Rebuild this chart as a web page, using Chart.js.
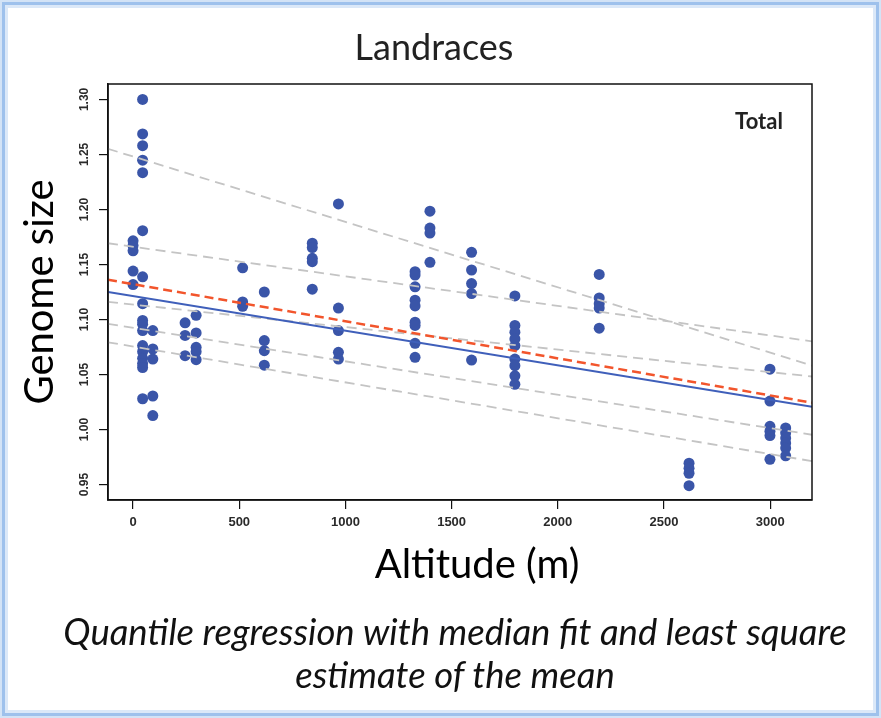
<!DOCTYPE html>
<html>
<head>
<meta charset="utf-8">
<title>Landraces</title>
<script src="https://cdn.jsdelivr.net/npm/chart.js@4.4.0/dist/chart.umd.min.js"></script>
<style>
  html, body { margin: 0; padding: 0; background: #fff; overflow: hidden; }
  #wrap { position: relative; width: 881px; height: 718px; }
  #chart { position: absolute; left: 0; top: 0; }
  #caption {
    position: absolute; left: 29px; top: 610px; width: 852px;
    text-align: center; font-family: Lato, sans-serif; font-style: italic;
    font-size: 36.5px; line-height: 43px; color: #111;
  }
  #edge {
    position: absolute; left: 0; top: 0; width: 881px; height: 718px;
    box-sizing: border-box; border: 2px solid #d3e3f6;
    box-shadow: inset 0 0 0 3px #9ec1ec, inset 0 0 0 6px #dbe8f8;
    pointer-events: none;
  }
</style>
</head>
<body>
<div id="wrap">
  <canvas id="chart" width="881" height="718"></canvas>
  <div id="caption"></div>
  <div id="edge"></div>
</div>
<script>
// Scatter points: altitude (m) and genome size, one entry per point
const pointAltitude = [
  0, 0, 0, 0, 0,
  45, 45, 45, 45, 45, 45, 45, 45, 45, 45, 45, 45, 45, 45, 45, 45, 45,
  93, 93, 93, 93, 93,
  245, 245, 245,
  297, 297, 297, 297, 297,
  516, 516, 516,
  618, 618, 618, 618,
  844, 844, 844, 844, 844,
  967, 967, 967, 967, 967,
  1328, 1328, 1328, 1328, 1328, 1328, 1328, 1328, 1328,
  1398, 1398, 1398, 1398,
  1594, 1594, 1594, 1594, 1594,
  1798, 1798, 1798, 1798, 1798, 1798, 1798, 1798, 1798,
  2195, 2195, 2195, 2195, 2195,
  2618, 2618, 2618, 2618,
  2999, 2999, 2999, 2999, 2999, 2999,
  3073, 3073, 3073, 3073, 3073, 3073
];
const pointGenomeSize = [
  1.1715, 1.1672, 1.1624, 1.144, 1.1318,
  1.300, 1.2686, 1.258, 1.2448, 1.2334, 1.1807, 1.1388, 1.1144, 1.0992, 1.0958, 1.090, 1.0763, 1.0708, 1.0647, 1.060, 1.0564, 1.028,
  1.090, 1.0732, 1.0641, 1.0305, 1.0127,
  1.097, 1.0855, 1.0671,
  1.1038, 1.0878, 1.0747, 1.0708, 1.0635,
  1.147, 1.116, 1.112,
  1.125, 1.0809, 1.0717, 1.0585,
  1.1693, 1.1654, 1.1556, 1.1526, 1.1276,
  1.205, 1.1104, 1.090, 1.0702, 1.0641,
  1.1434, 1.1404, 1.1297, 1.1175, 1.1123, 1.0976, 1.0946, 1.0784, 1.0656,
  1.1984, 1.1831, 1.1785, 1.152,
  1.1611, 1.145, 1.1327, 1.1236, 1.0631,
  1.1214, 1.0946, 1.0885, 1.0824, 1.0763, 1.0641, 1.058, 1.0488, 1.0411,
  1.141, 1.1196, 1.1144, 1.1104, 1.0921,
  0.9694, 0.9648, 0.9603, 0.949,
  1.0549, 1.0259, 1.003, 0.9985, 0.9945, 0.973,
  1.0015, 0.997, 0.9923, 0.9877, 0.9832, 0.9761
];

// Fitted lines, values at the two ends of the altitude range
const altitudeRange = [-118, 3197];
const medianFit = [1.1251, 1.0207];
const meanFit = [1.1361, 1.0244];
const quantileFits = [
  [1.2551, 1.0582],
  [1.1693, 1.0802],
  [1.116, 1.0482],
  [1.096, 0.9953],
  [1.0793, 0.9713]
];

const xTicks = [0, 500, 1000, 1500, 2000, 2500, 3000];
const yTicks = [0.95, 1.00, 1.05, 1.10, 1.15, 1.20, 1.25, 1.30];
const yRange = [0.936, 1.314];

const chartTitle = 'Landraces';
const panelLabel = 'Total';
const xTitle = 'Altitude (m)';
const yTitle = 'Genome size';
const captionLines = [
  'Quantile regression with median fit and least square',
  'estimate of the mean'
];

// caption under the chart
const cap = document.getElementById('caption');
captionLines.forEach(t => {
  const d = document.createElement('div');
  d.textContent = t;
  cap.appendChild(d);
});

function endPoints(vals) {
  return altitudeRange.map((x, i) => ({ x: x, y: vals[i] }));
}

const datasets = [];

quantileFits.forEach(q => {
  datasets.push({
    type: 'line',
    data: endPoints(q),
    borderColor: '#c4c4c4',
    borderWidth: 1.8,
    borderDash: [10, 6],
    pointRadius: 0,
    fill: false,
    order: 3
  });
});

datasets.push({
  type: 'line',
  data: endPoints(medianFit),
  borderColor: '#3f5fba',
  borderWidth: 2,
  pointRadius: 0,
  fill: false,
  order: 2
});

datasets.push({
  type: 'line',
  data: endPoints(meanFit),
  borderColor: '#f2552c',
  borderWidth: 2.5,
  borderDash: [9, 5],
  pointRadius: 0,
  fill: false,
  order: 1
});

datasets.push({
  type: 'scatter',
  data: pointAltitude.map((a, i) => ({ x: a, y: pointGenomeSize[i] })),
  backgroundColor: '#3a55a8',
  borderWidth: 0,
  pointRadius: 5.5,
  order: 10
});

// frame round the plot, rotated y labels, x title and the panel label
const framePlugin = {
  id: 'frame',
  afterDraw(chart) {
    const { ctx, chartArea: a, scales } = chart;
    ctx.save();
    ctx.strokeStyle = '#111';
    ctx.lineWidth = 1.5;
    ctx.strokeRect(a.left, a.top, a.right - a.left, a.bottom - a.top);

    ctx.font = 'bold 12px "Liberation Sans"';
    ctx.fillStyle = '#2a2a2a';
    ctx.textAlign = 'center';
    ctx.textBaseline = 'middle';
    yTicks.forEach(v => {
      const y = scales.y.getPixelForValue(v);
      ctx.save();
      ctx.translate(a.left - 23, y);
      ctx.rotate(-Math.PI / 2);
      ctx.fillText(v.toFixed(2), 0, 0);
      ctx.restore();
    });

    // x title sits a bit right of the plot centre in the original
    ctx.font = '40px Lato';
    ctx.fillStyle = '#000';
    ctx.fillText(xTitle, (a.left + a.right) / 2 + 17, scales.x.bottom - 24);

    ctx.font = 'bold 22px Lato';
    ctx.fillStyle = '#222';
    ctx.fillText(panelLabel, a.right - 53, a.top + 38);
    ctx.restore();
  }
};

new Chart(document.getElementById('chart'), {
  type: 'scatter',
  data: { datasets: datasets },
  options: {
    responsive: false,
    animation: false,
    layout: { padding: { left: 10, right: 23, top: 10, bottom: 129 } },
    plugins: {
      legend: { display: false },
      tooltip: { enabled: false },
      title: {
        display: true,
        text: chartTitle,
        color: '#222',
        font: { family: 'Lato', size: 36, weight: 'normal', lineHeight: 1.2 },
        padding: { top: 16.4, bottom: 14.4 }
      }
    },
    scales: {
      x: {
        type: 'linear',
        min: altitudeRange[0],
        max: altitudeRange[1],
        afterBuildTicks: s => { s.ticks = xTicks.map(v => ({ value: v })); },
        afterFit: s => { s.height = 89; },
        ticks: {
          padding: 6,
          color: '#2a2a2a',
          font: { family: 'Liberation Sans', size: 13, weight: 'bold' },
          callback: v => String(v)
        },
        grid: { drawOnChartArea: false, tickLength: 9, color: '#111', lineWidth: 1.2 },
        border: { color: '#111', width: 1.5 },
        title: { display: false, text: xTitle }
      },
      y: {
        type: 'linear',
        min: yRange[0],
        max: yRange[1],
        afterBuildTicks: s => { s.ticks = yTicks.map(v => ({ value: v })); },
        afterFit: s => { s.width = 98; },
        ticks: { display: false },
        grid: { drawOnChartArea: false, tickLength: 9, color: '#111', lineWidth: 1.2 },
        border: { color: '#111', width: 1.5 },
        title: {
          display: true,
          text: yTitle,
          color: '#000',
          font: { family: 'Lato', size: 40, lineHeight: 1.2 },
          padding: { top: 6, bottom: 0 }
        }
      },
      yPad: {
        position: 'right',
        display: true,
        afterFit: s => { s.width = 46; },
        ticks: { display: false },
        grid: { display: false },
        border: { display: false }
      }
    }
  },
  plugins: [framePlugin]
});
</script>
</body>
</html>
